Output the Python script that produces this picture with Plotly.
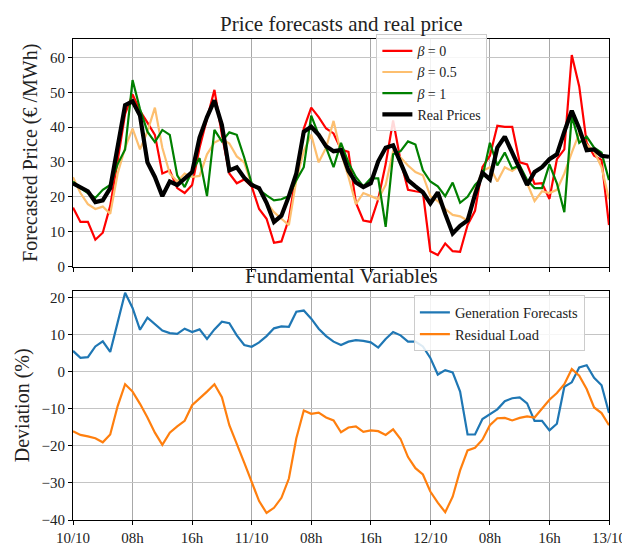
import plotly.graph_objects as go

hours = list(range(73))
tick_hours = [0, 8, 16, 24, 32, 40, 48, 56, 64, 72]
tick_labels = ["10/10", "08h", "16h", "11/10", "08h", "16h", "12/10", "08h", "16h", "13/10"]

real_prices = [23.9, 22.8, 21.6, 18.5, 19.0, 22.5, 34.1, 46.3, 47.4, 43.3, 29.9, 25.7, 20.2, 24.4, 23.4, 25.3,
               27.1, 37.0, 42.9, 47.7, 40.6, 27.6, 28.5, 25.5, 23.4, 22.5, 18.3, 12.8, 14.6, 20.2, 26.7, 38.7,
               40.1, 37.8, 34.5, 33.1, 33.4, 27.5, 24.1, 22.8, 23.9, 30.2, 34.1, 34.8, 29.9, 24.8, 23.0, 21.3,
               18.1, 21.3, 15.1, 9.5, 11.7, 13.2, 20.6, 26.9, 25.0, 34.1, 37.3, 32.7, 28.5, 23.4, 27.1, 28.5,
               30.8, 32.2, 38.7, 44.7, 39.6, 33.4, 33.6, 31.8, 31.5]
beta0 = [16.9, 12.8, 12.8, 7.7, 9.7, 17.4, 30.4, 43.8, 49.4, 44.7, 41.3, 37.8, 26.7, 27.6, 22.5, 21.1,
         23.4, 34.1, 42.4, 50.7, 37.8, 26.7, 23.9, 25.0, 23.0, 16.5, 13.7, 6.8, 7.2, 13.7, 26.7, 39.6,
         45.6, 42.9, 39.6, 38.2, 33.6, 32.9, 18.3, 13.2, 12.8, 19.3, 29.4, 41.9, 30.4, 22.0, 21.6, 21.3,
         4.4, 3.3, 6.6, 4.4, 4.2, 11.9, 16.0, 28.5, 31.8, 40.4, 40.1, 40.1, 29.9, 29.3, 23.7, 23.9,
         19.4, 30.8, 33.6, 60.7, 51.7, 35.5, 31.8, 30.6, 11.9]
beta05 = [25.6, 21.1, 17.9, 16.5, 17.2, 15.1, 26.7, 34.1, 39.6, 33.6, 38.7, 45.6, 34.1, 26.7, 24.4, 26.7,
          25.7, 26.0, 32.2, 35.6, 36.7, 35.3, 31.6, 29.9, 23.4, 22.2, 18.3, 15.6, 13.7, 11.9, 24.8, 33.1,
          37.8, 29.9, 34.1, 41.8, 32.5, 25.8, 17.9, 21.1, 20.2, 19.3, 23.4, 33.1, 31.3, 29.0, 27.1, 26.2,
          20.2, 18.8, 16.5, 14.8, 14.4, 13.2, 22.0, 27.4, 28.5, 24.4, 28.5, 27.4, 29.0, 23.9, 18.8, 21.6,
          21.1, 22.0, 26.7, 32.7, 38.2, 35.0, 33.1, 28.5, 19.3]
beta1 = [24.4, 22.5, 21.1, 19.7, 22.0, 23.4, 29.4, 33.6, 53.5, 45.2, 38.7, 35.7, 39.2, 37.8, 26.2, 22.8,
         27.4, 31.1, 20.2, 39.2, 35.9, 38.5, 37.8, 31.3, 23.9, 22.0, 20.4, 19.0, 19.3, 20.2, 24.8, 28.5,
         43.3, 37.8, 34.1, 28.5, 35.5, 29.8, 25.7, 23.0, 25.3, 25.3, 11.4, 32.2, 33.1, 35.9, 35.0, 27.6,
         24.4, 23.0, 20.2, 24.1, 18.3, 20.0, 23.4, 25.6, 35.5, 29.0, 32.7, 28.1, 29.0, 24.8, 22.5, 22.5,
         29.3, 23.9, 15.6, 43.3, 35.5, 37.3, 34.1, 32.7, 24.8]
generation_forecasts = [5.7, 3.8, 4.0, 6.9, 8.3, 5.4, 13.4, 21.4, 17.3, 11.4, 14.7, 13.0, 11.2, 10.5, 10.3, 11.7,
                        10.8, 11.5, 8.9, 11.5, 13.6, 13.2, 9.9, 7.3, 6.8, 8.0, 9.7, 11.8, 12.3, 12.2, 16.3, 16.6,
                        14.4, 11.7, 9.7, 8.2, 7.3, 8.2, 8.6, 8.4, 8.0, 6.6, 8.9, 10.8, 9.9, 8.2, 8.2, 6.9,
                        3.8, -0.7, 0.5, -0.1, -5.3, -16.9, -16.9, -12.7, -11.4, -10.1, -7.9, -7.1, -6.9, -8.5, -13.2, -13.2,
                        -15.8, -14.0, -4.0, -2.8, 1.2, 1.8, -1.6, -3.6, -11.1]
residual_load = [-16.0, -17.0, -17.4, -17.9, -19.0, -16.9, -9.2, -3.3, -5.3, -8.6, -12.3, -16.4, -19.7, -16.4, -14.7, -13.2,
                 -9.0, -7.2, -5.3, -3.3, -6.8, -14.4, -19.7, -24.5, -29.7, -34.9, -38.1, -36.7, -34.0, -28.8, -17.9, -10.4,
                 -11.3, -11.0, -12.3, -13.1, -16.3, -15.0, -14.7, -16.2, -15.8, -16.0, -17.0, -15.5, -18.1, -23.0, -26.0, -27.7,
                 -32.3, -35.3, -37.9, -33.7, -26.6, -21.2, -20.5, -18.3, -14.4, -12.5, -12.4, -13.1, -12.4, -12.0, -12.3, -9.9,
                 -7.5, -5.7, -3.3, 0.8, -1.0, -4.6, -9.6, -11.1, -14.4]

FONT = "Liberation Serif"
fig = go.Figure()

top_series = [
    ("<i>β</i> = 0", beta0, "#ff0000", 2.2),
    ("<i>β</i> = 0.5", beta05, "#fdbf6f", 2.2),
    ("<i>β</i> = 1", beta1, "#008000", 2.2),
    ("Real Prices", real_prices, "#000000", 4.2),
]
for name, vals, col, w in top_series:
    fig.add_trace(go.Scatter(x=hours, y=vals, mode="lines", name=name,
                             line=dict(color=col, width=w), xaxis="x", yaxis="y", legend="legend"))

fig.add_trace(go.Scatter(x=hours, y=generation_forecasts, mode="lines", name="Generation Forecasts",
                         line=dict(color="#1f77b4", width=2.2), xaxis="x2", yaxis="y2", legend="legend2"))
fig.add_trace(go.Scatter(x=hours, y=residual_load, mode="lines", name="Residual Load",
                         line=dict(color="#ff7f0e", width=2.2), xaxis="x2", yaxis="y2", legend="legend2"))

axis_common = dict(showline=True, linecolor="black", linewidth=1, mirror=True,
                   ticks="outside", ticklen=4, tickcolor="black",
                   showgrid=True, zeroline=False,
                   tickfont=dict(family=FONT, size=15, color="#222"))

top_dom = [0.527, 1.0]
bot_dom = [0.0, 0.477]
XGRID = "#a8a8a8"
YGRID = "#c4c4c4"

fig.update_layout(
    width=630, height=550,
    margin=dict(l=65, r=29, t=31, b=22),
    paper_bgcolor="white", plot_bgcolor="white",
    font=dict(family=FONT, size=15, color="#222"),
    showlegend=True,
    xaxis=dict(domain=[0, 1], range=[0, 72], tickvals=tick_hours, ticktext=tick_labels,
               showticklabels=False, anchor="y", gridcolor=XGRID, gridwidth=1.3, **axis_common),
    yaxis=dict(domain=top_dom, range=[0, 65.3], tickvals=[0, 10, 20, 30, 40, 50, 60], anchor="x",
               gridcolor=YGRID, gridwidth=1,
               title=dict(text="Forecasted Price (€ /MWh)", font=dict(family=FONT, size=20, color="#222"), standoff=6),
               **axis_common),
    xaxis2=dict(domain=[0, 1], range=[0, 72], tickvals=tick_hours, ticktext=tick_labels,
                anchor="y2", gridcolor=XGRID, gridwidth=1.3, **axis_common),
    yaxis2=dict(domain=bot_dom, range=[-40, 22], tickvals=[-40, -30, -20, -10, 0, 10, 20], anchor="x2",
                gridcolor=YGRID, gridwidth=1,
                title=dict(text="Deviation (%)", font=dict(family=FONT, size=20, color="#222"), standoff=6),
                **axis_common),
    legend=dict(x=0.566, y=1.01, xanchor="left", yanchor="top", bgcolor="rgba(255,255,255,0.85)",
                bordercolor="#cccccc", borderwidth=1, font=dict(family=FONT, size=14, color="#222"),
                tracegroupgap=0, itemwidth=30),
    legend2=dict(x=0.636, y=0.467, xanchor="left", yanchor="top", bgcolor="rgba(255,255,255,0.85)",
                 bordercolor="#cccccc", borderwidth=1, font=dict(family=FONT, size=14.5, color="#222"),
                 tracegroupgap=0, itemwidth=30),
    annotations=[
        dict(text="Price forecasts and real price", x=0.5, y=1.0, xref="paper", yref="paper",
             xanchor="center", yanchor="bottom", showarrow=False, yshift=1,
             font=dict(family=FONT, size=21, color="#222")),
        dict(text="Fundamental Variables", x=0.5, y=bot_dom[1], xref="paper", yref="paper",
             xanchor="center", yanchor="bottom", showarrow=False, yshift=1,
             font=dict(family=FONT, size=21, color="#222")),
    ],
)

fig.write_html("out.html")
